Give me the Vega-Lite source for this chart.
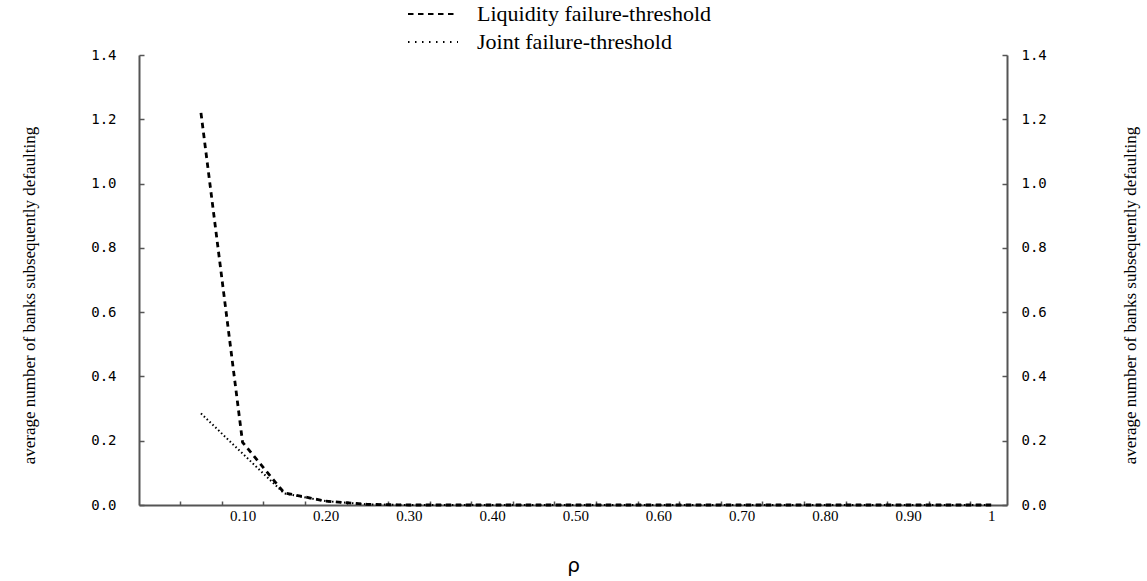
{
  "$schema": "https://vega.github.io/schema/vega-lite/v6.json",
  "width": 868,
  "height": 450,
  "autosize": "none",
  "padding": {"left": 139, "top": 55, "right": 140, "bottom": 76},
  "background": "white",
  "config": {"view": {"stroke": null}, "axis": {"grid": false}},
  "data": {"values": [
    {"rho": 0.05, "v": 1.22, "s": "Liquidity failure-threshold"},
    {"rho": 0.10, "v": 0.195, "s": "Liquidity failure-threshold"},
    {"rho": 0.15, "v": 0.038, "s": "Liquidity failure-threshold"},
    {"rho": 0.20, "v": 0.012, "s": "Liquidity failure-threshold"},
    {"rho": 0.25, "v": 0.002, "s": "Liquidity failure-threshold"},
    {"rho": 0.30, "v": 0, "s": "Liquidity failure-threshold"},
    {"rho": 0.35, "v": 0, "s": "Liquidity failure-threshold"},
    {"rho": 0.40, "v": 0, "s": "Liquidity failure-threshold"},
    {"rho": 0.45, "v": 0, "s": "Liquidity failure-threshold"},
    {"rho": 0.50, "v": 0, "s": "Liquidity failure-threshold"},
    {"rho": 0.55, "v": 0, "s": "Liquidity failure-threshold"},
    {"rho": 0.60, "v": 0, "s": "Liquidity failure-threshold"},
    {"rho": 0.65, "v": 0, "s": "Liquidity failure-threshold"},
    {"rho": 0.70, "v": 0, "s": "Liquidity failure-threshold"},
    {"rho": 0.75, "v": 0, "s": "Liquidity failure-threshold"},
    {"rho": 0.80, "v": 0, "s": "Liquidity failure-threshold"},
    {"rho": 0.85, "v": 0, "s": "Liquidity failure-threshold"},
    {"rho": 0.90, "v": 0, "s": "Liquidity failure-threshold"},
    {"rho": 0.95, "v": 0, "s": "Liquidity failure-threshold"},
    {"rho": 1.00, "v": 0, "s": "Liquidity failure-threshold"},
    {"rho": 0.05, "v": 0.285, "s": "Joint failure-threshold"},
    {"rho": 0.10, "v": 0.16, "s": "Joint failure-threshold"},
    {"rho": 0.15, "v": 0.036, "s": "Joint failure-threshold"},
    {"rho": 0.20, "v": 0.012, "s": "Joint failure-threshold"},
    {"rho": 0.25, "v": 0.002, "s": "Joint failure-threshold"},
    {"rho": 0.30, "v": 0, "s": "Joint failure-threshold"},
    {"rho": 0.35, "v": 0, "s": "Joint failure-threshold"},
    {"rho": 0.40, "v": 0, "s": "Joint failure-threshold"},
    {"rho": 0.45, "v": 0, "s": "Joint failure-threshold"},
    {"rho": 0.50, "v": 0, "s": "Joint failure-threshold"},
    {"rho": 0.55, "v": 0, "s": "Joint failure-threshold"},
    {"rho": 0.60, "v": 0, "s": "Joint failure-threshold"},
    {"rho": 0.65, "v": 0, "s": "Joint failure-threshold"},
    {"rho": 0.70, "v": 0, "s": "Joint failure-threshold"},
    {"rho": 0.75, "v": 0, "s": "Joint failure-threshold"},
    {"rho": 0.80, "v": 0, "s": "Joint failure-threshold"},
    {"rho": 0.85, "v": 0, "s": "Joint failure-threshold"},
    {"rho": 0.90, "v": 0, "s": "Joint failure-threshold"},
    {"rho": 0.95, "v": 0, "s": "Joint failure-threshold"},
    {"rho": 1.00, "v": 0, "s": "Joint failure-threshold"}
  ]},
  "resolve": {"axis": {"x": "independent", "y": "independent"}},
  "layer": [
    {
      "mark": {"type": "line", "color": "black", "strokeCap": "butt"},
      "encoding": {
        "x": {"field": "rho", "type": "quantitative",
          "scale": {"domain": [-0.0245, 1.019], "nice": false, "zero": false},
          "axis": {"orient": "bottom", "values": [0.1,0.2,0.3,0.4,0.5,0.6,0.7,0.8,0.9,1], "labelExpr": "datum.value == 1 ? '1' : format(datum.value, '.2f')",
            "ticks": false, "domain": false, "labelFont": "Liberation Serif", "labelFontSize": 15, "labelColor": "black", "labelPadding": 3,
            "title": "ρ", "titleFont": "DejaVu Sans", "titleFontSize": 20, "titleFontWeight": "normal", "titleColor": "black", "titlePadding": 32}},
        "y": {"field": "v", "type": "quantitative",
          "scale": {"domain": [0, 1.4], "nice": false},
          "axis": {"orient": "left", "values": [0,0.2,0.4,0.6,0.8,1.0,1.2,1.4], "format": ".1f",
            "tickSize": -5, "tickColor": "#555", "tickWidth": 1.5, "domainColor": "#555", "domainWidth": 2,
            "labelFont": "DejaVu Sans Mono", "labelFontSize": 14, "labelColor": "black", "labelPadding": 28,
            "title": "average number of banks subsequently defaulting", "titleFont": "Liberation Serif", "titleFontSize": 17, "titleFontWeight": "normal", "titleColor": "black",
            "titleAngle": -90, "titleX": -110, "titleY": 240, "titleAlign": "center", "titleBaseline": "middle"}},
        "strokeDash": {"field": "s", "type": "nominal",
          "scale": {"domain": ["Liquidity failure-threshold", "Joint failure-threshold"], "range": [[5.5, 4.5], [1.5, 2.5]]},
          "legend": {"title": null, "orient": "none", "legendX": 268, "legendY": -67, "values": ["Liquidity failure-threshold"], "symbolType": "stroke", "symbolSize": 2500,
            "symbolStrokeColor": "black", "symbolStrokeWidth": 1.8, "labelFont": "Liberation Serif", "labelFontSize": 22, "labelColor": "black",
            "labelOffset": 18, "labelLimit": 400}},
        "strokeWidth": {"field": "s", "type": "nominal",
          "scale": {"domain": ["Joint failure-threshold", "Liquidity failure-threshold"], "range": [2, 2.8]},
          "legend": {"title": null, "orient": "none", "legendX": 268, "legendY": -39, "values": ["Joint failure-threshold"], "symbolType": "stroke", "symbolSize": 2500,
            "symbolStrokeColor": "black", "symbolDash": [1.5, 5.5], "labelFont": "Liberation Serif", "labelFontSize": 22, "labelColor": "black",
            "labelOffset": 18, "labelLimit": 400}}
      }
    },
    {
      "mark": {"type": "line", "strokeOpacity": 0},
      "encoding": {
        "x": {"field": "rho", "type": "quantitative",
          "axis": {"orient": "bottom", "values": [0.025,0.075,0.125,0.175,0.225,0.275,0.325,0.375,0.425,0.475,0.525,0.575,0.625,0.675,0.725,0.775,0.825,0.875,0.925,0.975],
            "labels": false, "tickSize": -4, "tickColor": "#555", "tickWidth": 1.5, "domainColor": "#555", "domainWidth": 2, "title": null}},
        "y": {"field": "v", "type": "quantitative",
          "axis": {"orient": "right", "values": [0,0.2,0.4,0.6,0.8,1.0,1.2,1.4], "format": ".1f",
            "tickSize": -5, "tickColor": "#555", "tickWidth": 1.5, "domainColor": "#555", "domainWidth": 2,
            "labelFont": "DejaVu Sans Mono", "labelFontSize": 14, "labelColor": "black", "labelPadding": 19,
            "title": "average number of banks subsequently defaulting", "titleFont": "Liberation Serif", "titleFontSize": 17, "titleFontWeight": "normal", "titleColor": "black",
            "titleAngle": -90, "titleX": 123, "titleY": 240, "titleAlign": "center", "titleBaseline": "middle"}},
        "detail": {"field": "s", "type": "nominal"}
      }
    }
  ]
}
